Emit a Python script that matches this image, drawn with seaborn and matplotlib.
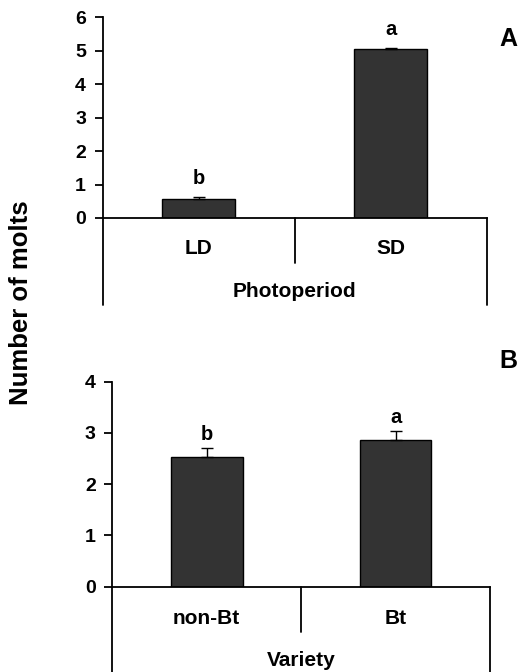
import matplotlib
matplotlib.use("Agg")
import matplotlib.pyplot as plt
import seaborn as sns
import pandas as pd

# Data
photo_cats = ["LD", "SD"]
photo_means = [0.57, 5.07]
photo_errs = [0.05, 0.01]
photo_letters = ["b", "a"]

var_cats = ["non-Bt", "Bt"]
var_means = [2.53, 2.86]
var_errs = [0.18, 0.18]
var_letters = ["b", "a"]

sns.set_style("white")
plt.rcParams['font.family'] = ['Liberation Sans', 'DejaVu Sans']
plt.rcParams['font.weight'] = 'bold'
plt.rcParams['text.color'] = 'black'
plt.rcParams['axes.labelcolor'] = 'black'
plt.rcParams['xtick.color'] = 'black'
plt.rcParams['ytick.color'] = 'black'

fig = plt.figure(figsize=(5.19, 6.72), dpi=100)
axA = fig.add_axes([0.198, 0.6756, 0.740, 0.2984])
axB = fig.add_axes([0.2164, 0.127, 0.7278, 0.305])

BAR = "#333333"
FS_TICK = 14
FS_CAT = 15
FS_LET = 14.5


def draw(ax, cats, means, errs, letters, ymax, xlabel, low_frac, div_frac, cat_y, lab_y, let_off):
    df = pd.DataFrame({"cat": cats, "val": means})
    sns.barplot(data=df, x="cat", y="val", order=cats, color=BAR, width=0.38,
                edgecolor="black", linewidth=1.0, saturation=1, ax=ax, errorbar=None)
    for p in ax.patches:
        p.set_facecolor(BAR)
    xs = list(range(len(cats)))
    ax.errorbar(xs, means, yerr=[[0] * len(errs), errs], fmt="none", ecolor="black",
                elinewidth=1.0, capsize=4, capthick=1.0)
    for x, m, e, l in zip(xs, means, errs, letters):
        ax.annotate(l, (x, m + e), xytext=(0, let_off), textcoords="offset points",
                    ha="center", va="bottom", fontsize=FS_LET, fontweight="bold", color="black")
    ax.set_xlim(-0.5, 1.5)
    ax.set_ylim(0, ymax)
    ax.set_yticks(range(0, ymax + 1))
    ax.set_yticklabels([str(v) for v in range(0, ymax + 1)])
    ax.set_xticks([])
    ax.set_xlabel("")
    ax.set_ylabel("")
    for s in ["top", "right"]:
        ax.spines[s].set_visible(False)
    for s in ["left", "bottom"]:
        ax.spines[s].set_linewidth(1.3)
        ax.spines[s].set_color("black")
    ax.tick_params(axis="y", direction="out", length=5.5, width=1.3, color="black", left=True,
                   pad=6.5, labelsize=FS_TICK, labelcolor="black")
    for t in ax.get_yticklabels():
        t.set_fontweight("bold")
        t.set_fontsize(FS_TICK)
    ax.patch.set_alpha(0)
    # category table below axis
    tr = ax.transAxes
    ax.plot([0, 0], [0, low_frac], color="black", lw=1.3, transform=tr, clip_on=False)
    ax.plot([1, 1], [0, low_frac], color="black", lw=1.3, transform=tr, clip_on=False)
    ax.plot([0.5, 0.5], [0, div_frac], color="black", lw=1.3, transform=tr, clip_on=False)
    for i, c in enumerate(cats):
        ax.text(0.25 + 0.5 * i, cat_y, c, transform=tr, ha="center", va="center",
                fontsize=FS_CAT, fontweight="bold", color="black")
    ax.text(0.5, lab_y, xlabel, transform=tr, ha="center",
            va="center", fontsize=FS_CAT, fontweight="bold", color="black")
    return ax


draw(axA, photo_cats, photo_means, photo_errs, photo_letters, 6, "Photoperiod",
     -0.434, -0.224, -0.15, -0.369, 6.5)
draw(axB, var_cats, var_means, var_errs, var_letters, 4, "Variety",
     -0.42, -0.2195, -0.153, -0.358, 2.5)

fig.text(508.5 / 519, 1 - 39 / 672, "A", ha="center", va="center", fontsize=18, fontweight="bold")
fig.text(508.5 / 519, 1 - 361.5 / 672, "B", ha="center", va="center", fontsize=18, fontweight="bold")
fig.text(21 / 519, 1 - 302.5 / 672, "Number of molts", rotation=90, ha="center", va="center",
         fontsize=18.5, fontweight="bold")

fig.savefig("out.png", dpi=100)
